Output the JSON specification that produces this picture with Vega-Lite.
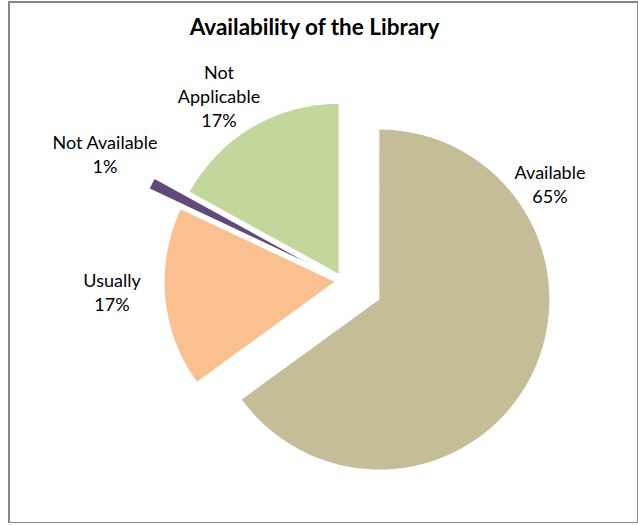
{
  "$schema": "https://vega.github.io/schema/vega-lite/v6.json",
  "width": 629,
  "height": 521,
  "autosize": {"type": "none"},
  "padding": {"left": 9, "top": 2, "right": 0, "bottom": 0},
  "background": "#ffffff",
  "title": {
    "text": "Availability of the Library",
    "font": "Lato",
    "fontSize": 22.5,
    "fontWeight": "bold",
    "color": "#000000",
    "anchor": "middle",
    "offset": -37,
    "dx": -9
  },
  "config": {"view": {"stroke": "#878787", "strokeWidth": 2}},
  "data": {
    "values": [
      {"category": "Available", "value": 65},
      {"category": "Usually", "value": 17},
      {"category": "Not Available", "value": 1},
      {"category": "Not Applicable", "value": 17}
    ]
  },
  "transform": [
    {"window": [{"op": "sum", "field": "value", "as": "cum"}], "frame": [null, 0]},
    {"joinaggregate": [{"op": "sum", "field": "value", "as": "total"}]},
    {"calculate": "(datum.cum - datum.value) / datum.total * 2 * PI", "as": "a0"},
    {"calculate": "datum.cum / datum.total * 2 * PI", "as": "a1"},
    {"calculate": "(datum.a0 + datum.a1) / 2", "as": "mid"},
    {"calculate": "datum.category == 'Available' ? 0.24 : datum.category == 'Not Available' ? 0.26 : 0.05", "as": "explode"},
    {"calculate": "sin(datum.mid) * datum.explode", "as": "ox"},
    {"calculate": "cos(datum.mid) * datum.explode", "as": "oy"},
    {"calculate": "(datum.category == 'Available' ? 62.67 : datum.category == 'Usually' ? 269.75 : datum.category == 'Not Available' ? 299.92 : 329.08) * PI / 180", "as": "la"},
    {"calculate": "datum.category == 'Available' ? 1.3706 : datum.category == 'Usually' ? 1.3588 : datum.category == 'Not Available' ? 1.6153 : 1.4194", "as": "lr"},
    {"calculate": "sin(datum.la) * datum.lr", "as": "lx"},
    {"calculate": "cos(datum.la) * datum.lr", "as": "ly"},
    {"calculate": "(datum.category == 'Not Applicable' ? 'Not\\nApplicable' : datum.category) + '\\n' + datum.value + '%'", "as": "label"}
  ],
  "layer": [
    {
      "mark": {"type": "arc", "radius": 170},
      "encoding": {
        "x": {"field": "ox", "type": "quantitative", "axis": null, "scale": {"domain": [-1.96471, 1.73529], "zero": false, "nice": false}},
        "y": {"field": "oy", "type": "quantitative", "axis": null, "scale": {"domain": [-1.42353, 1.64118], "zero": false, "nice": false}},
        "theta": {"field": "a0", "type": "quantitative", "scale": null, "stack": null},
        "theta2": {"field": "a1"},
        "color": {
          "field": "category",
          "type": "nominal",
          "legend": null,
          "scale": {
            "domain": ["Available", "Usually", "Not Available", "Not Applicable"],
            "range": ["#C4BD97", "#FAC090", "#604A7B", "#C3D69B"]
          }
        }
      }
    },
    {
      "mark": {"type": "text", "font": "Lato", "fontSize": 18, "lineHeight": 24, "lineBreak": "\n", "align": "center", "baseline": "middle", "color": "#000000"},
      "encoding": {
        "x": {"field": "lx", "type": "quantitative"},
        "y": {"field": "ly", "type": "quantitative"},
        "text": {"field": "label"}
      }
    }
  ]
}
